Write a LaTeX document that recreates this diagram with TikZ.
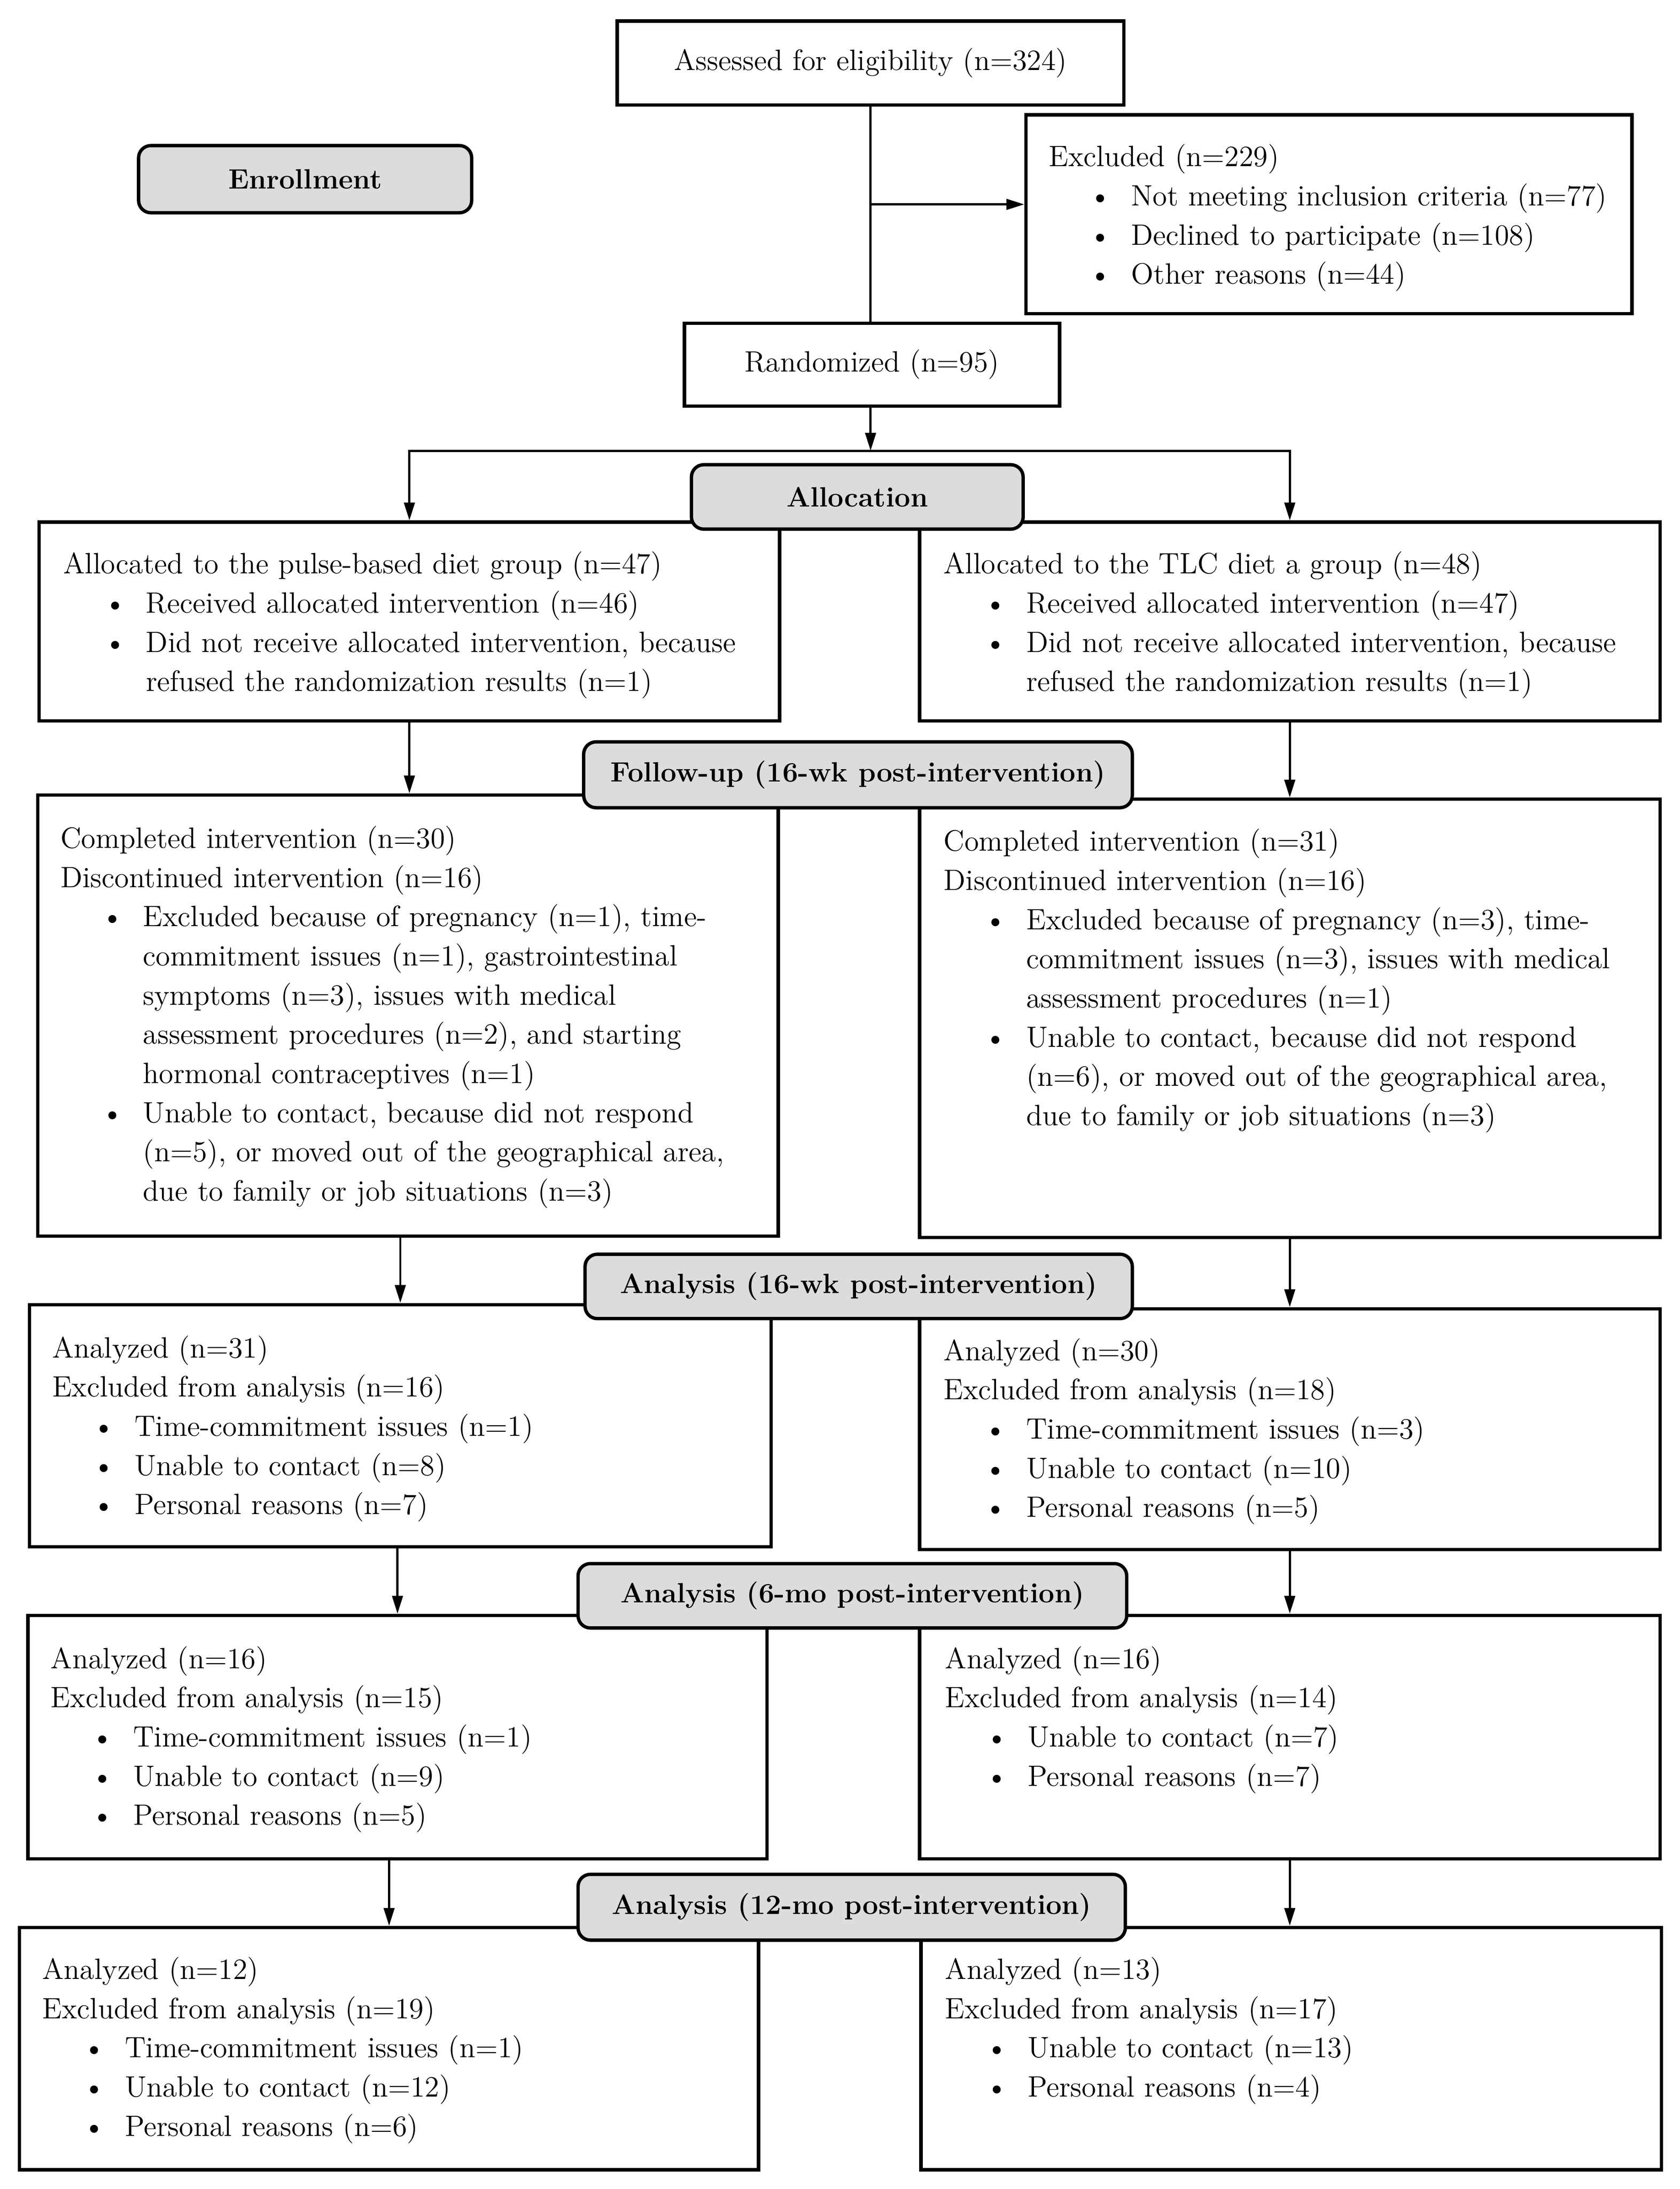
\documentclass[tikz,border=0pt]{standalone}
\usepackage{fontspec}
\usetikzlibrary{arrows.meta}
\setlength{\parindent}{0pt}
\definecolor{hdrgrey}{RGB}{220,220,220}
\newcommand\bodyfont{\fontsize{14.95}{19.92}\selectfont}
\newcommand\hdrfont{\fontsize{14.2}{19.92}\selectfont\bfseries}
\newcommand\bl{\hspace*{7.25mm}\makebox[7.5mm][l]{\textbullet}}
\newcommand\cl{\hspace*{14.75mm}}
\tikzset{
  every node/.style={font=\bodyfont},
  wbox/.style={draw, line width=0.6mm, fill=white, inner sep=0pt},
  gbox/.style={draw, line width=0.6mm, fill=hdrgrey, rounded corners=2.2mm, inner sep=0pt, font=\hdrfont},
  txt/.style={anchor=north west, inner sep=0pt, align=left, text width=130mm},
  conn/.style={line width=0.4mm},
  arr/.style={conn, -{Triangle[length=3.2mm,width=1.9mm]}}
}
\begin{document}
\begin{tikzpicture}[x=0.25mm, y=-0.25mm]
\useasboundingbox[fill=white] (0,0) rectangle (1200,1563.8);

% white boxes
\node[wbox, minimum width=90.5mm, minimum height=15mm] (A) at (622,45) {Assessed for eligibility (n=324)};
\node[wbox, minimum width=108.25mm, minimum height=35.5mm] (Ex) at (949.5,153) {};
\node[wbox, minimum width=67mm, minimum height=14.75mm] (R) at (623,260.5) {Randomized (n=95)};
\node[wbox, minimum width=132.25mm, minimum height=35.5mm] (LA) at (292.5,444) {};
\node[wbox, minimum width=132.25mm, minimum height=35.5mm] (RA) at (921.5,444) {};
\node[wbox, minimum width=132.25mm, minimum height=78.75mm] (LFU) at (291.5,725.5) {};
\node[wbox, minimum width=132.25mm, minimum height=78.25mm] (RFU) at (921.5,727.5) {};
\node[wbox, minimum width=132.5mm, minimum height=43.25mm] (L16) at (286,1018.5) {};
\node[wbox, minimum width=132.25mm, minimum height=43mm] (R16) at (921.5,1021) {};
\node[wbox, minimum width=132mm, minimum height=43.5mm] (L6) at (284,1241) {};
\node[wbox, minimum width=132.25mm, minimum height=43.5mm] (R6) at (921.5,1241) {};
\node[wbox, minimum width=132mm, minimum height=43.25mm] (L12) at (278,1463.5) {};
\node[wbox, minimum width=132.25mm, minimum height=43.25mm] (R12) at (922.5,1463.5) {};

% grey headers
\node[gbox, minimum width=59.5mm, minimum height=12mm] (Enr) at (218,128) {Enrollment};
\node[gbox, minimum width=59.25mm, minimum height=11.5mm] (Alloc) at (612.5,355) {Allocation};
\node[gbox, minimum width=98mm, minimum height=11.75mm] (Fol) at (613,553.5) {Follow-up (16-wk post-intervention)};
\node[gbox, minimum width=97.75mm, minimum height=11.5mm] (H16) at (613.5,919) {Analysis (16-wk post-intervention)};
\node[gbox, minimum width=98mm, minimum height=11.5mm] (H6) at (609,1140) {Analysis (6-mo post-intervention)};
\node[gbox, minimum width=97.75mm, minimum height=11.75mm] (H12) at (608.5,1362.5) {Analysis (12-mo post-intervention)};

% texts
\node[txt] (tEx) at (749,99) {\strut Excluded (n=229)\\
\bl Not meeting inclusion criteria (n=77)\\
\bl Declined to participate (n=108)\\
\bl Other reasons (n=44)};

\node[txt] (tLA) at (45,390) {\strut Allocated to the pulse-based diet group (n=47)\\
\bl Received allocated intervention (n=46)\\
\bl Did not receive allocated intervention, because\\
\cl refused the randomization results (n=1)};

\node[txt] (tRA) at (674,390) {\strut Allocated to the TLC diet a group (n=48)\\
\bl Received allocated intervention (n=47)\\
\bl Did not receive allocated intervention, because\\
\cl refused the randomization results (n=1)};

\node[txt] (tLFU) at (43,586) {\strut Completed intervention (n=30)\\
Discontinued intervention (n=16)\\
\bl Excluded because of pregnancy (n=1), time-\\
\cl commitment issues (n=1), gastrointestinal\\
\cl symptoms (n=3), issues with medical\\
\cl assessment procedures (n=2), and starting\\
\cl hormonal contraceptives (n=1)\\
\bl Unable to contact, because did not respond\\
\cl (n=5), or moved out of the geographical area,\\
\cl due to family or job situations (n=3)};

\node[txt] (tRFU) at (674,588) {\strut Completed intervention (n=31)\\
Discontinued intervention (n=16)\\
\bl Excluded because of pregnancy (n=3), time-\\
\cl commitment issues (n=3), issues with medical\\
\cl assessment procedures (n=1)\\
\bl Unable to contact, because did not respond\\
\cl (n=6), or moved out of the geographical area,\\
\cl due to family or job situations (n=3)};

\node[txt] (tL16) at (37,950) {\strut Analyzed (n=31)\\
Excluded from analysis (n=16)\\
\bl Time-commitment issues (n=1)\\
\bl Unable to contact (n=8)\\
\bl Personal reasons (n=7)};

\node[txt] (tR16) at (674,952) {\strut Analyzed (n=30)\\
Excluded from analysis (n=18)\\
\bl Time-commitment issues (n=3)\\
\bl Unable to contact (n=10)\\
\bl Personal reasons (n=5)};

\node[txt] (tL6) at (36,1172) {\strut Analyzed (n=16)\\
Excluded from analysis (n=15)\\
\bl Time-commitment issues (n=1)\\
\bl Unable to contact (n=9)\\
\bl Personal reasons (n=5)};

\node[txt] (tR6) at (675,1172) {\strut Analyzed (n=16)\\
Excluded from analysis (n=14)\\
\bl Unable to contact (n=7)\\
\bl Personal reasons (n=7)};

\node[txt] (tL12) at (30,1394) {\strut Analyzed (n=12)\\
Excluded from analysis (n=19)\\
\bl Time-commitment issues (n=1)\\
\bl Unable to contact (n=12)\\
\bl Personal reasons (n=6)};

\node[txt] (tR12) at (675,1394) {\strut Analyzed (n=13)\\
Excluded from analysis (n=17)\\
\bl Unable to contact (n=13)\\
\bl Personal reasons (n=4)};

% connectors
\coordinate (exc) at (622,146);
\coordinate (split) at (622,322);
\draw[conn] (A.south) -- (A.south |- R.north);
\draw[arr] (exc) -- (exc -| Ex.west);
\draw[arr] (R.south -| split) -- (split);
\draw[arr] (split) -| (LA.north);
\draw[arr] (split) -| (RA.north);
\draw[arr] (LA.south) -- (LA.south |- LFU.north);
\draw[arr] (RA.south) -- (RA.south |- RFU.north);
\draw[arr] (L16.north |- LFU.south) -- (L16.north);
\draw[arr] (RFU.south) -- (RFU.south |- R16.north);
\draw[arr] (L6.north |- L16.south) -- (L6.north);
\draw[arr] (R16.south) -- (R16.south |- R6.north);
\draw[arr] (L12.north |- L6.south) -- (L12.north);
\draw[arr] (R6.south) -- (R6.south |- R12.north);
\end{tikzpicture}
\end{document}
